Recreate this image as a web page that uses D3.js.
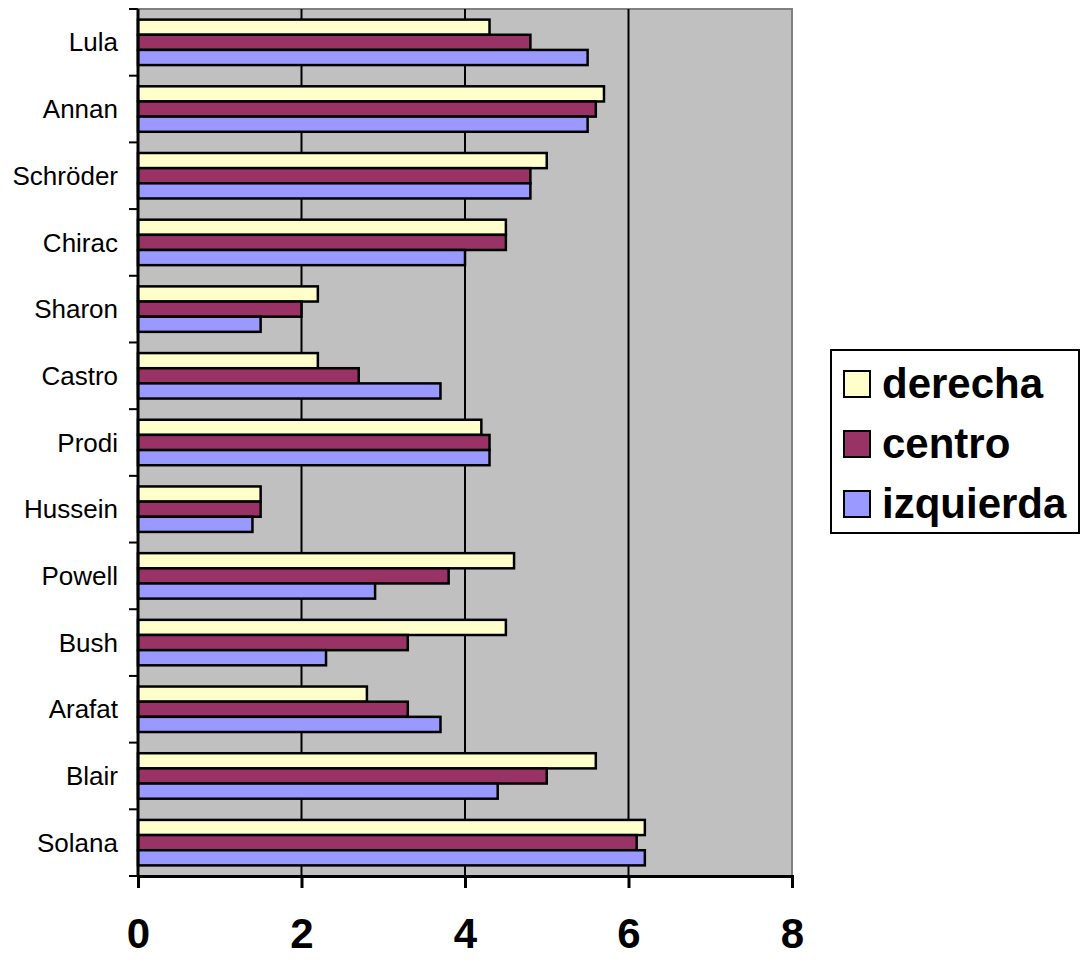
<!DOCTYPE html>
<html>
<head>
<meta charset="utf-8">
<script src="https://cdn.jsdelivr.net/npm/d3@7"></script>
<style>
  body { margin: 0; background: #fff; }
  svg { display: block; font-family: Arial, "Liberation Sans", sans-serif; }
</style>
</head>
<body>
<svg id="chart"></svg>
<script>
// Categories top to bottom
var names = ['Lula', 'Annan', 'Schröder', 'Chirac', 'Sharon', 'Castro', 'Prodi',
             'Hussein', 'Powell', 'Bush', 'Arafat', 'Blair', 'Solana'];
var seriesNames = ['derecha', 'centro', 'izquierda'];
var derecha   = [4.3, 5.7, 5.0, 4.5, 2.2, 2.2, 4.2, 1.5, 4.6, 4.5, 2.8, 5.6, 6.2];
var centro    = [4.8, 5.6, 4.8, 4.5, 2.0, 2.7, 4.3, 1.5, 3.8, 3.3, 3.3, 5.0, 6.1];
var izquierda = [5.5, 5.5, 4.8, 4.0, 1.5, 3.7, 4.3, 1.4, 2.9, 2.3, 3.7, 4.4, 6.2];
var xTicks = [0, 2, 4, 6, 8];
var colors = ['#FFFFCC', '#993366', '#9999FF'];

var width = 1081,
    height = 968;

var svg = d3.select('#chart')
    .attr('width', width)
    .attr('height', height);

var x = d3.scaleLinear().domain([0, 8]).range([138, 792]);
var y = d3.scaleBand().domain(names).range([9, 876]);
var ySub = d3.scaleBand().domain(seriesNames).range([0, y.bandwidth()])
    .paddingInner(0).paddingOuter(0.7);
var color = d3.scaleOrdinal().domain(seriesNames).range(colors);

var rows = names.map(function (n, i) {
    return { name: n, values: [derecha[i], centro[i], izquierda[i]] };
});

// Plot background
svg.append('rect')
    .attr('x', x(0)).attr('y', y.range()[0])
    .attr('width', x(8) - x(0)).attr('height', y.range()[1] - y.range()[0])
    .attr('fill', '#C0C0C0')
    .attr('stroke', '#808080')
    .attr('stroke-width', 2);

// Gridlines
svg.append('g')
    .selectAll('line')
    .data([2, 4, 6])
    .enter().append('line')
    .attr('x1', function (d) { return x(d); })
    .attr('x2', function (d) { return x(d); })
    .attr('y1', y.range()[0])
    .attr('y2', y.range()[1])
    .attr('stroke', '#000')
    .attr('stroke-width', 2);

// Bars
var groups = svg.append('g')
    .selectAll('g')
    .data(rows)
    .enter().append('g')
    .attr('transform', function (d) { return 'translate(0,' + y(d.name) + ')'; });

groups.selectAll('rect')
    .data(function (d) {
        return d.values.map(function (v, i) { return { key: seriesNames[i], value: v }; });
    })
    .enter().append('rect')
    .attr('x', x(0))
    .attr('y', function (d) { return ySub(d.key); })
    .attr('width', function (d) { return x(d.value) - x(0); })
    .attr('height', ySub.bandwidth())
    .attr('fill', function (d) { return color(d.key); })
    .attr('stroke', '#000')
    .attr('stroke-width', 2.5);

// Y axis: ticks between categories
var yAxis = svg.append('g');
yAxis.append('line')
    .attr('x1', x(0)).attr('x2', x(0))
    .attr('y1', y.range()[0]).attr('y2', y.range()[1])
    .attr('stroke', '#000').attr('stroke-width', 3);
yAxis.selectAll('line.tick')
    .data(names.concat(['end']))
    .enter().append('line')
    .attr('class', 'tick')
    .attr('x1', x(0) - 9).attr('x2', x(0))
    .attr('y1', function (d, i) { return y.range()[0] + i * y.step(); })
    .attr('y2', function (d, i) { return y.range()[0] + i * y.step(); })
    .attr('stroke', '#000').attr('stroke-width', 2);
yAxis.selectAll('text')
    .data(names)
    .enter().append('text')
    .attr('x', 118)
    .attr('y', function (d) { return y(d) + y.bandwidth() / 2; })
    .attr('dy', '0.35em')
    .attr('text-anchor', 'end')
    .attr('font-size', 26)
    .text(function (d) { return d; });

// X axis
var xAxis = svg.append('g')
    .attr('transform', 'translate(0,' + y.range()[1] + ')')
    .call(d3.axisBottom(x).tickValues(xTicks).tickSize(12).tickPadding(30).tickFormat(d3.format('d')));
xAxis.select('.domain').attr('stroke-width', 3);
xAxis.selectAll('.tick line').attr('stroke-width', 3);
xAxis.selectAll('.tick text')
    .attr('font-size', 42)
    .attr('font-weight', 'bold')
    .attr('font-family', 'Arial, "Liberation Sans", sans-serif')
    .attr('fill', '#000');

// Legend
var legend = svg.append('g');
legend.append('rect')
    .attr('x', 831).attr('y', 350)
    .attr('width', 248).attr('height', 183)
    .attr('fill', '#fff')
    .attr('stroke', '#000')
    .attr('stroke-width', 2);
var items = legend.selectAll('g')
    .data(seriesNames)
    .enter().append('g')
    .attr('transform', function (d, i) { return 'translate(844,' + (371 + i * 60) + ')'; });
items.append('rect')
    .attr('width', 26).attr('height', 26)
    .attr('fill', function (d) { return color(d); })
    .attr('stroke', '#000')
    .attr('stroke-width', 2);
items.append('text')
    .attr('x', 38)
    .attr('y', 27)
    .attr('font-size', 42)
    .attr('font-weight', 'bold')
    .text(function (d) { return d; });
</script>
</body>
</html>
